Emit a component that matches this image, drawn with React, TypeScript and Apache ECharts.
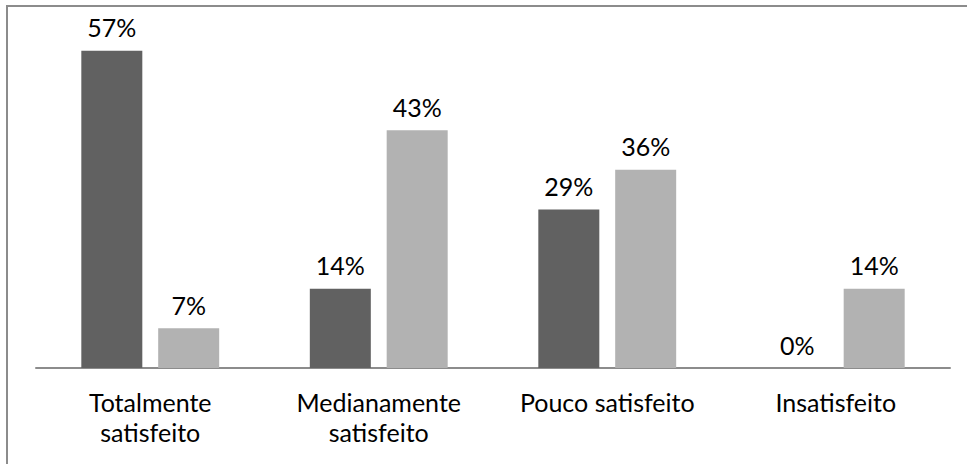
import React, { useEffect, useRef } from "react";
import * as echarts from "echarts";

const categories = ["Totalmente\nsatisfeito", "Medianamente\nsatisfeito", "Pouco satisfeito", "Insatisfeito"];
const seriesDark = [57.14, 14.29, 28.57, 0];
const seriesLight = [7.14, 42.86, 35.71, 14.29];

const FONT = "Lato";
const FS = 25;

export default function App() {
  const ref = useRef<HTMLDivElement>(null);
  useEffect(() => {
    if (!ref.current) return;
    const chart = echarts.init(ref.current, undefined, { renderer: "svg" });
    const label = {
      show: true,
      position: "top",
      distance: 11,
      color: "#000",
      fontFamily: FONT,
      fontSize: FS,
      formatter: (p: any) => Math.round(p.value) + "%",
    };
    chart.setOption({
      animation: false,
      backgroundColor: "#fff",
      graphic: [
        {
          type: "rect",
          shape: { x: 7, y: 6, width: 990, height: 490 },
          style: { fill: "none", stroke: "#8c8c8c", lineWidth: 2 },
          silent: true,
        },
      ],
      grid: { left: 36, right: 17, top: 35, bottom: 96 },
      xAxis: {
        type: "category",
        data: categories,
        axisTick: { show: false },
        axisLine: { lineStyle: { color: "#8c8c8c", width: 2 } },
        axisLabel: {
          color: "#000",
          fontFamily: FONT,
          fontSize: FS,
          lineHeight: 30,
          margin: 19,
          interval: 0,
        },
      },
      yAxis: {
        type: "value",
        min: 0,
        max: 60,
        show: false,
        splitLine: { show: false },
      },
      series: [
        {
          type: "bar",
          data: seriesDark,
          barWidth: 61,
          barGap: "26%",
          itemStyle: { color: "#616161" },
          label,
        },
        {
          type: "bar",
          data: seriesLight,
          barWidth: 61,
          itemStyle: { color: "#b2b2b2" },
          label,
        },
      ],
    });
    return () => chart.dispose();
  }, []);
  return (
    <div
      ref={ref}
      style={{ position: "absolute", left: 0, top: 0, width: 967, height: 464 }}
    />
  );
}
